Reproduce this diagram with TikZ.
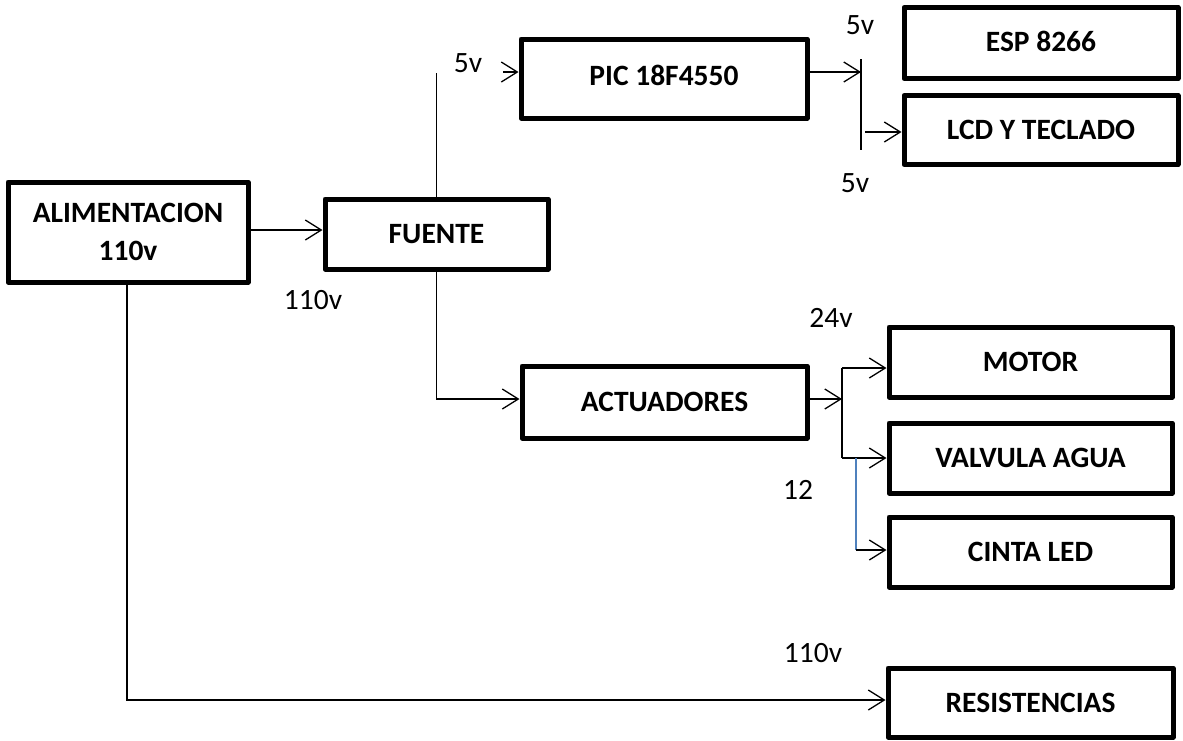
\documentclass[tikz,border=0pt]{standalone}
\usepackage{fontspec}
\setmainfont{Carlito}
\usetikzlibrary{arrows.meta}
\begin{document}
\begin{tikzpicture}[x=1pt,y=-1pt,
  every node/.style={font=\fontsize{29.5}{38}\selectfont},
  box/.style={draw, line width=5pt, line join=round, inner sep=0pt, align=center,
    font=\fontsize{29.5}{38}\selectfont\bfseries},
  conn/.style={line width=1.3pt, -{Straight Barb[length=16pt,width=20pt,line width=1.3pt]}},
  wire/.style={line width=1.3pt},
  bluewire/.style={line width=1.3pt, draw={rgb,255:red,79;green,129;blue,189}},
  lbl/.style={inner sep=0pt}]
\useasboundingbox (0,0) rectangle (1183,740);
% boxes
\node[box, minimum width=240pt, minimum height=100pt] (alim) at (128,232) {ALIMENTACION\\110v};
\node[box, minimum width=223pt, minimum height=70pt] (fuente) at (436.5,234) {FUENTE};
\node[box, minimum width=286pt, minimum height=79pt] (pic) at (664,78.5) {\raisebox{6pt}{PIC 18F4550}};
\node[box, minimum width=274pt, minimum height=71pt] (esp) at (1041,43) {\raisebox{3pt}{ESP 8266}};
\node[box, minimum width=274pt, minimum height=69pt] (lcd) at (1041,130) {LCD Y TECLADO};
\node[box, minimum width=285pt, minimum height=72pt] (act) at (664.5,402) {ACTUADORES};
\node[box, minimum width=283pt, minimum height=70pt] (motor) at (1030.5,362) {MOTOR};
\node[box, minimum width=283pt, minimum height=70pt] (valv) at (1030.5,458) {VALVULA AGUA};
\node[box, minimum width=283pt, minimum height=70pt] (cinta) at (1030.5,552) {CINTA LED};
\node[box, minimum width=285pt, minimum height=69pt] (resist) at (1030.5,702.5) {RESISTENCIAS};
% coordinates
\coordinate (ftop) at (436.5,73);
\coordinate (picin) at (503,72);
\coordinate (barT) at (861,59);
\coordinate (barB) at (861,150);
\coordinate (lcdin) at (865,132);
\coordinate (b2T) at (842,368);
\coordinate (b2B) at (842,458);
\coordinate (blT) at (856,458);
\coordinate (blB) at (856,550);
\coordinate (rcorner) at (127,700);
% connectors
\draw[conn] (alim.east |- 0,230) -- (fuente.west |- 0,230);
\draw[wire] (fuente.north) -- (ftop);
\draw[conn] (picin) -- (pic.west |- picin);
\draw[conn] (pic.east |- 0,72) -- (barT |- 0,72);
\draw[wire] (barT) -- (barB);
\draw[conn] (lcdin) -- (lcd.west |- lcdin);
\draw[conn] (fuente.south) |- (act.west |- 0,399);
\draw[conn] (act.east |- 0,399) -- (b2T |- 0,399);
\draw[wire] (b2T) -- (b2B);
\draw[conn] (b2T) -- (motor.west |- b2T);
\draw[conn] (b2B) -- (valv.west |- b2B);
\draw[bluewire] (blT) -- (blB);
\draw[conn] (blB) -- (cinta.west |- blB);
\draw[conn] (alim.south -| rcorner) -- (rcorner) -- (resist.west |- rcorner);
% labels
\node[lbl] (l1) at (468,63) {5v};
\node[lbl] (l2) at (860,25) {5v};
\node[lbl] (l3) at (855,183) {5v};
\node[lbl] (l4) at (313,300) {110v};
\node[lbl] (l5) at (831,318) {24v};
\node[lbl] (l6) at (798,490) {12};
\node[lbl] (l7) at (813,653) {110v};
\end{tikzpicture}
\end{document}
